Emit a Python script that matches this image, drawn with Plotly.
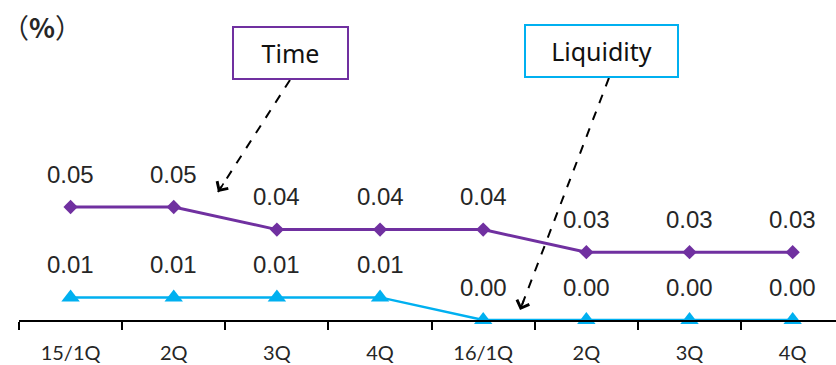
import plotly.graph_objects as go

categories = ["15/1Q", "2Q", "3Q", "4Q", "16/1Q", "2Q", "3Q", "4Q"]
time_vals = [0.05, 0.05, 0.04, 0.04, 0.04, 0.03, 0.03, 0.03]
liq_vals = [0.01, 0.01, 0.01, 0.01, 0.00, 0.00, 0.00, 0.00]
series_names = ["Time", "Liquidity"]
unit_label = "（<b>%</b>）"

PURPLE = "#7030A0"
CYAN = "#00B0F0"
TXT = "#262626"

x = list(range(len(categories)))

fig = go.Figure()
fig.add_trace(go.Scatter(
    x=x, y=time_vals, mode="lines+markers", name=series_names[0],
    line=dict(color=PURPLE, width=3),
    marker=dict(symbol="diamond", size=11, color=PURPLE),
    cliponaxis=False, showlegend=False))
fig.add_trace(go.Scatter(
    x=x, y=liq_vals, mode="lines+markers", name=series_names[1],
    line=dict(color=CYAN, width=2.5),
    marker=dict(symbol="triangle-up", size=16, color=CYAN),
    cliponaxis=False, showlegend=False))

ann = []
for vals in (time_vals, liq_vals):
    for xi, v in zip(x, vals):
        ann.append(dict(x=xi, y=v, text=f"{v:.2f}", showarrow=False, yshift=33,
                        font=dict(family="Liberation Sans, Arial", size=24, color=TXT)))

# legend-style callout boxes
ann.append(dict(x=2.132, y=0.1181, text=series_names[0], showarrow=False,
                bordercolor=PURPLE, borderwidth=2, borderpad=0, width=113, height=50,
                bgcolor="white",
                font=dict(family="Noto Sans", size=25, color="#111111")))
ann.append(dict(x=5.147, y=0.119, text=series_names[1], showarrow=False,
                bordercolor=CYAN, borderwidth=2, borderpad=0, width=151, height=50,
                bgcolor="white",
                font=dict(family="Noto Sans", size=25, color="#111111")))

# arrows: dashed shaft + head
arrows = [((2.127, 0.1062), (1.429, 0.0566), (6.5, -10.1)),
          ((5.219, 0.1071), (4.357, 0.0044), (4.3, -11.2))]
shapes = []
for (tx, ty), (hx, hy), (ax, ay) in arrows:
    shapes.append(dict(type="line", x0=tx, y0=ty, x1=hx, y1=hy, xref="x", yref="y",
                       line=dict(color="black", width=2, dash="dash")))
    ann.append(dict(x=hx, y=hy, ax=ax, ay=ay, showarrow=True, text="",
                    arrowhead=4, arrowsize=1.6, arrowwidth=1.6, arrowcolor="black"))

ann.append(dict(x=-0.023, y=0.977, xref="paper", yref="paper", xanchor="left",
                yanchor="middle", text=unit_label, showarrow=False,
                font=dict(family="Noto Sans CJK JP", size=27, color=TXT)))

fig.update_layout(
    width=836, height=365,
    margin=dict(l=19, r=0, t=20, b=45),
    plot_bgcolor="white", paper_bgcolor="white",
    annotations=ann, shapes=shapes,
    xaxis=dict(range=[-0.5, 7.42], showgrid=False, zeroline=False, automargin=False,
               showline=True, linecolor="black", linewidth=1.5,
               tickmode="array", tickvals=x, ticktext=categories,
               ticks="outside", ticklen=14, tickcolor="rgba(0,0,0,0)",
               tickfont=dict(family="Lato", size=20, color=TXT),
               minor=dict(tickmode="array", tickvals=[i - 0.5 for i in range(len(categories) + 1)],
                          ticks="outside", ticklen=8, tickcolor="black", tickwidth=1.5,
                          showgrid=False)),
    yaxis=dict(range=[0, 300 / 2260], visible=False, showgrid=False, zeroline=False,
               automargin=False),
)

fig.write_html("out.html")
